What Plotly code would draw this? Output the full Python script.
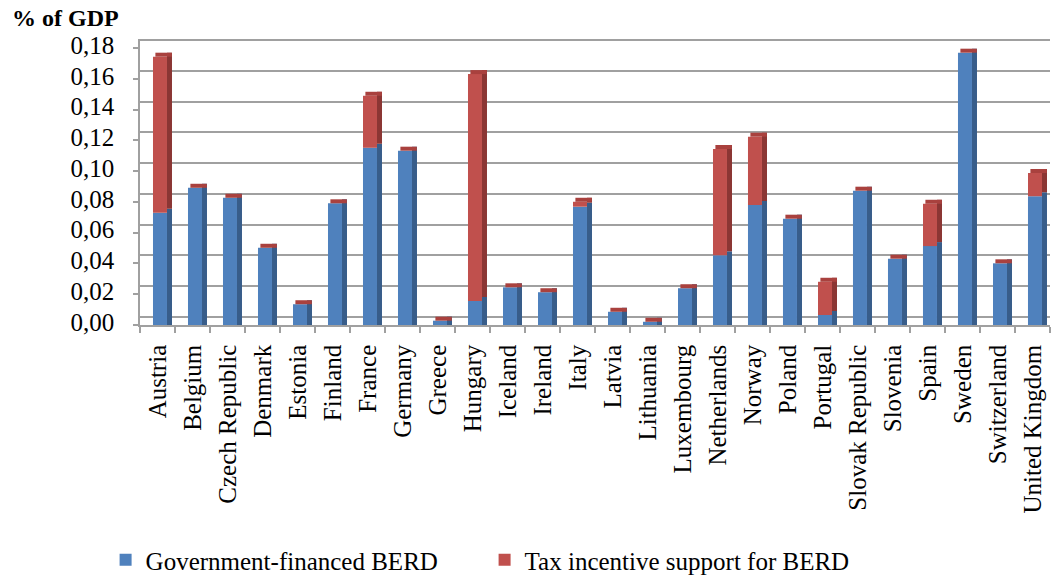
import plotly.graph_objects as go

countries = ["Austria", "Belgium", "Czech Republic", "Denmark", "Estonia", "Finland",
             "France", "Germany", "Greece", "Hungary", "Iceland", "Ireland", "Italy",
             "Latvia", "Lithuania", "Luxembourg", "Netherlands", "Norway", "Poland",
             "Portugal", "Slovak Republic", "Slovenia", "Spain", "Sweden", "Switzerland",
             "United Kingdom"]
gov = [0.0730, 0.0892, 0.0827, 0.0502, 0.0135, 0.0791, 0.1152, 0.1133, 0.0028, 0.0156,
       0.0245, 0.0213, 0.0769, 0.0086, 0.0021, 0.0239, 0.0453, 0.0780, 0.0691, 0.0065,
       0.0873, 0.0431, 0.0513, 0.1770, 0.0401, 0.0837]
tax = [0.1014, 0.0, 0.0, 0.0, 0.0, 0.0, 0.0338, 0.0, 0.0, 0.1475,
       0.0, 0.0, 0.0032, 0.0, 0.0, 0.0, 0.0691, 0.0444, 0.0, 0.0216,
       0.0, 0.0, 0.0275, 0.0, 0.0, 0.0151]
yticks = [0.00, 0.02, 0.04, 0.06, 0.08, 0.10, 0.12, 0.14, 0.16, 0.18]

BLUE = "#4f81bd"
RED = "#c0504d"
BLUE_SIDE = "#385d8a"
RED_SIDE = "#8b3634"
CAP = "#a9413e"
FONT = "Liberation Serif"
GRID = "#a0a0a0"

total = [g + t for g, t in zip(gov, tax)]
depth = 0.0026  # 3D depth of bars in value units

fig = go.Figure()
fig.add_trace(go.Bar(x=countries, y=gov, base=[0] * len(gov), name="Government-financed BERD",
                     marker=dict(color=BLUE, line=dict(width=0)), width=0.4, offset=-0.129,
                     yaxis="y2"))
fig.add_trace(go.Bar(x=countries, y=tax, base=gov, name="Tax incentive support for BERD",
                     marker=dict(color=RED, line=dict(width=0)), width=0.4, offset=-0.129,
                     yaxis="y2"))
fig.add_trace(go.Bar(x=countries, y=[g + depth for g in gov], base=[0] * len(gov),
                     marker=dict(color=BLUE_SIDE, line=dict(width=0)), width=0.143, offset=0.271,
                     yaxis="y2", showlegend=False, hoverinfo="skip"))
fig.add_trace(go.Bar(x=countries, y=tax, base=[g + depth for g in gov],
                     marker=dict(color=RED_SIDE, line=dict(width=0)), width=0.143, offset=0.271,
                     yaxis="y2", showlegend=False, hoverinfo="skip"))
fig.add_trace(go.Bar(x=countries, y=[depth] * len(total), base=total,
                     marker=dict(color=CAP, line=dict(width=0)), width=0.47, offset=-0.06,
                     yaxis="y2", showlegend=False, hoverinfo="skip"))
# invisible trace to carry the back-wall grid axis
fig.add_trace(go.Scatter(x=countries, y=[None] * len(countries), yaxis="y",
                         showlegend=False, hoverinfo="skip", mode="lines"))

fig.update_layout(
    width=1057, height=578,
    margin=dict(l=140, r=7, t=39, b=253),
    paper_bgcolor="white", plot_bgcolor="white",
    barmode="overlay",
    separators=", ",
    font=dict(family=FONT, size=25, color="black"),
    xaxis=dict(type="category", tickangle=-90, ticks="outside", ticklen=6,
               tickcolor=GRID, tickwidth=1.5, tickson="boundaries",
               showline=True, linecolor=GRID, linewidth=1.5, showgrid=False,
               ticklabelstandoff=8,
               tickfont=dict(family=FONT, size=25), range=[-0.5, 25.5]),
    yaxis=dict(range=[-0.0052, 0.1807], tickvals=yticks, showticklabels=False,
               showgrid=True, gridcolor=GRID, gridwidth=1.5, zeroline=False,
               showline=False, ticks=""),
    yaxis2=dict(range=[0, 0.1859], overlaying="y", side="left", tickvals=yticks,
                tickformat=".2f", showgrid=False, zeroline=False,
                showline=True, linecolor=GRID, linewidth=1.5,
                ticks="outside", ticklen=5, tickcolor=GRID, tickwidth=1.5,
                ticklabelstandoff=14, ticklabelshift=-3,
                tickfont=dict(family=FONT, size=25)),
    legend=dict(orientation="h", xref="container", yref="container",
                x=0.0999, y=0.031, xanchor="left", yanchor="middle",
                font=dict(family=FONT, size=25), entrywidth=334, entrywidthmode="pixels",
                bgcolor="rgba(0,0,0,0)"),
    annotations=[dict(text="<b>% of GDP</b>", xref="paper", yref="paper",
                      x=-0.1429, y=1.072, xanchor="left", yanchor="middle",
                      showarrow=False, font=dict(family=FONT, size=24))],
)

fig.write_html("out.html")
